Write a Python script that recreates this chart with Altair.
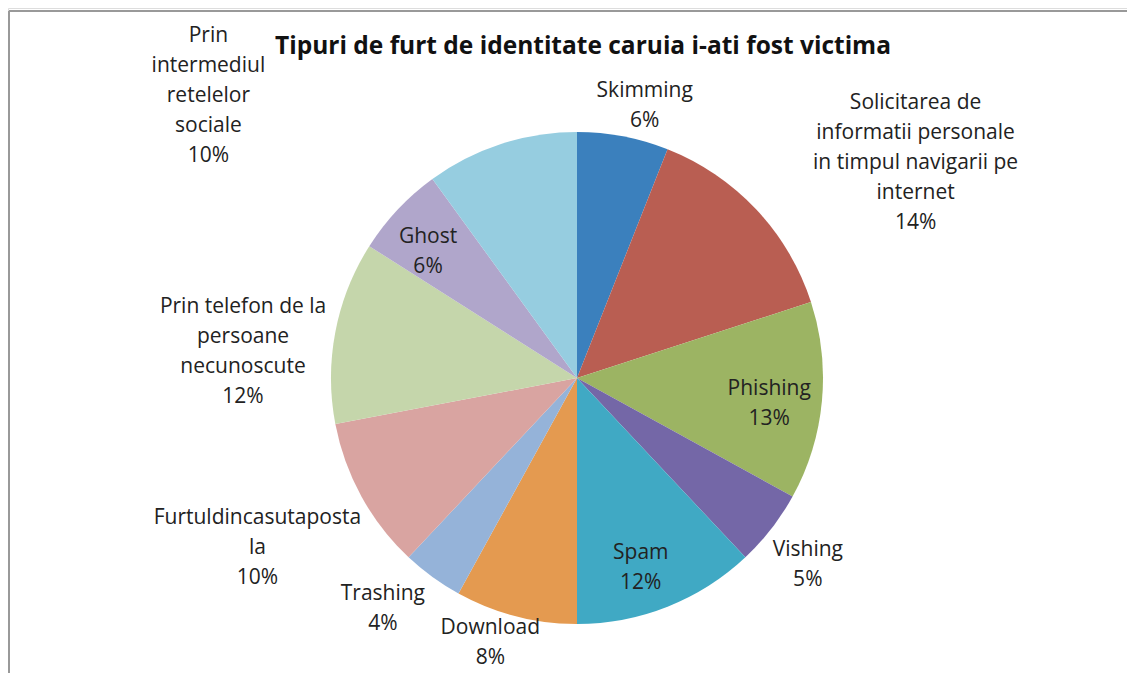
import altair as alt
import pandas as pd

# ---- data ----
categories = [
    "Skimming",
    "Solicitarea de\ninformatii personale\nin timpul navigarii pe\ninternet",
    "Phishing",
    "Vishing",
    "Spam",
    "Download",
    "Trashing",
    "Furtuldincasutaposta\nla",
    "Prin telefon de la\npersoane\nnecunoscute",
    "Ghost",
    "Prin\nintermediul\nretelelor\nsociale",
]
values = [6, 14, 13, 5, 12, 8, 4, 10, 12, 6, 10]
colors = ["#3B80BD", "#B95E52", "#9CB463", "#7467A7", "#40A9C4", "#E49A50",
          "#95B3D9", "#D9A4A1", "#C5D6AB", "#B0A6CB", "#96CDE0"]
title_text = "Tipuri de furt de identitate caruia i-ati fost victima"

# ---- label layout (radius in px, angular nudge in degrees) ----
label_radius = [280, 401, 194, 297, 200, 279, 302, 362, 335, 195, 464]
label_shift = [3.2, 10.8, 2.3, 1.2, 3.0, 3.7, 4.0, 0.8, -6.3, -3.0, -34.6]

df = pd.DataFrame({
    "cat": categories,
    "value": values,
    "order": list(range(len(values))),
    "lr": label_radius,
    "ls": label_shift,
})

CX, CY, R = 569, 370, 246
LH = 30
FONT = "Open Sans"

base = alt.Chart(df)

arcs = base.mark_arc(outerRadius=R, stroke=None).encode(
    theta=alt.Theta("value:Q", stack=True),
    order=alt.Order("order:Q"),
    color=alt.Color("cat:N", scale=alt.Scale(domain=categories, range=colors), legend=None),
    x=alt.value(CX),
    y=alt.value(CY),
)

labels = base.transform_joinaggregate(
    total="sum(value)"
).transform_window(
    cum="sum(value)", sort=[alt.SortField("order")], frame=[None, 0]
).transform_calculate(
    mid="(datum.cum - datum.value / 2) / datum.total * 2 * PI + datum.ls * PI / 180",
    label="datum.cat + '\\n' + format(datum.value / datum.total, '.0%')",
).transform_calculate(
    nl="split(datum.label, '\\n').length",
    px=f"{CX} + datum.lr * sin(datum.mid)",
    py=f"{CY} - datum.lr * cos(datum.mid)",
).transform_calculate(
    py2=f"datum.py - (datum.nl - 1) * {LH} / 2",
).mark_text(
    font=FONT, fontSize=21, color="#222222", lineBreak="\n", lineHeight=LH,
    align="center", baseline="middle",
).encode(
    x=alt.X("px:Q", scale=None),
    y=alt.Y("py2:Q", scale=None),
    text="label:N",
)

title = alt.Chart(pd.DataFrame({"t": [title_text]})).mark_text(
    font=FONT, fontSize=24.5, fontWeight="bold", color="#111111",
    align="center", baseline="middle",
).encode(text="t:N", x=alt.value(575), y=alt.value(39))

border = alt.Chart(pd.DataFrame({"a": [0]})).mark_rule(
    color="#999999", strokeWidth=2
).encode(x=alt.value(1), x2=alt.value(1300), y=alt.value(3))
border2 = alt.Chart(pd.DataFrame({"a": [0]})).mark_rule(
    color="#999999", strokeWidth=2
).encode(x=alt.value(1), y=alt.value(3), y2=alt.value(900))

chart = alt.layer(arcs, labels, title, border, border2).properties(
    width=1119, height=665, autosize=alt.AutoSizeParams(type="none"), padding=0
).configure_view(stroke=None).configure(background="white")

chart.save("out.html", embed_options={"renderer": "svg", "actions": False})
